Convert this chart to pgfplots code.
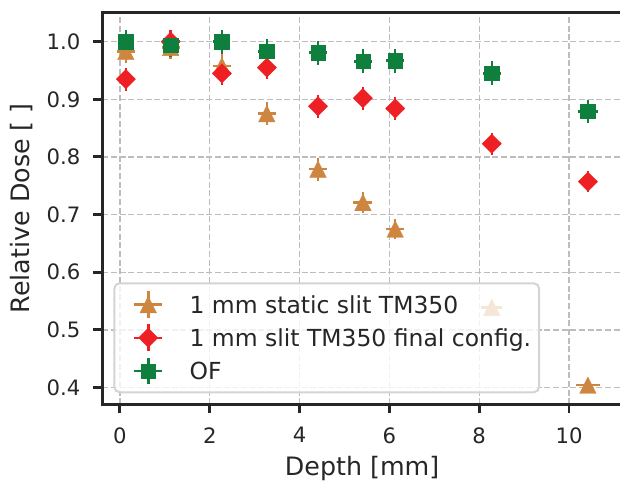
\documentclass[border=0pt]{standalone}
\usepackage{fontspec}
\setmainfont{DejaVu Sans}
\usepackage{pgfplots}
\pgfplotsset{compat=1.18}
\usetikzlibrary{calc}

\definecolor{oorange}{HTML}{CD853F}
\definecolor{rred}{HTML}{EE2024}
\definecolor{ggreen}{HTML}{0E7F3D}
\definecolor{txt}{HTML}{262626}
\definecolor{lgrid}{HTML}{BDBDBD}
\definecolor{lframe}{HTML}{D4D4D4}

% matplotlib-like markers
\pgfdeclareplotmark{mtri}{%
  \pgfpathmoveto{\pgfqpoint{0pt}{\pgfplotmarksize}}%
  \pgfpathlineto{\pgfqpoint{-\pgfplotmarksize}{-\pgfplotmarksize}}%
  \pgfpathlineto{\pgfqpoint{\pgfplotmarksize}{-\pgfplotmarksize}}%
  \pgfpathclose\pgfusepathqfillstroke}
\pgfdeclareplotmark{mdia}{%
  \pgfpathmoveto{\pgfqpoint{0pt}{\pgfplotmarksize}}%
  \pgfpathlineto{\pgfqpoint{-\pgfplotmarksize}{0pt}}%
  \pgfpathlineto{\pgfqpoint{0pt}{-\pgfplotmarksize}}%
  \pgfpathlineto{\pgfqpoint{\pgfplotmarksize}{0pt}}%
  \pgfpathclose\pgfusepathqfillstroke}
\pgfdeclareplotmark{msq}{%
  \pgfpathrectangle{\pgfqpoint{-\pgfplotmarksize}{-\pgfplotmarksize}}{\pgfqpoint{2\pgfplotmarksize}{2\pgfplotmarksize}}%
  \pgfusepathqfillstroke}

% legend handle: marker with x and y error bar
\pgfplotsset{ebimg/.style={legend image code/.code={
  \begin{scope}[sharp corners, fill opacity=1, draw opacity=1]
    \path[draw=none] (0pt,-10pt) rectangle (30pt,10pt);
    \draw[line width=1.9pt] (9pt,0pt) -- (30pt,0pt);
    \draw[line width=1.9pt] (19.5pt,-10pt) -- (19.5pt,10pt);
    \draw[mark repeat=2,mark phase=2] plot coordinates {(9pt,0pt) (19.5pt,0pt) (30pt,0pt)};
  \end{scope}}}}

\pgfplotstableread{
x     y      ex    ey
0.13  0.983  0.20  0.020
1.13  0.990  0.20  0.020
2.27  0.958  0.20  0.020
3.27  0.875  0.20  0.020
4.41  0.779  0.20  0.020
5.41  0.721  0.21  0.018
6.13  0.675  0.20  0.017
8.28  0.539  0.23  0.013
10.42 0.404  0.26  0.010
}\staticslit

\pgfplotstableread{
x     y      ex    ey
0.13  0.935  0.20  0.020
1.13  1.000  0.20  0.020
2.27  0.945  0.20  0.020
3.27  0.955  0.20  0.020
4.41  0.888  0.20  0.020
5.41  0.902  0.20  0.020
6.13  0.884  0.20  0.020
8.28  0.823  0.20  0.019
10.42 0.757  0.20  0.018
}\finalconfig

\pgfplotstableread{
x     y      ex    ey
0.13  1.000  0.17  0.021
1.13  0.994  0.18  0.021
2.27  1.000  0.19  0.021
3.27  0.983  0.19  0.021
4.41  0.981  0.20  0.021
5.41  0.966  0.20  0.021
6.13  0.967  0.20  0.021
8.28  0.945  0.20  0.021
10.42 0.879  0.22  0.020
}\ofdata

\begin{document}
\begin{tikzpicture}
\begin{axis}[
    scale only axis,
    width=389.8pt, height=294pt,
    xmin=-0.394, xmax=11.18,
    ymin=0.371, ymax=1.051,
    xtick={0,2,4,6,8,10},
    ytick={0.4,0.5,0.6,0.7,0.8,0.9,1.0},
    yticklabel style={/pgf/number format/.cd, fixed, fixed zerofill, precision=1},
    /pgf/number format/assume math mode=true,
    ticklabel style={font=\fontsize{15.9}{18}\selectfont, text=txt, inner sep=0pt},
    xticklabel shift=10.5pt,
    yticklabel shift=9.4pt,
    tick align=outside,
    tick pos=left,
    major tick length=6.75pt,
    every tick/.style={line width=2.2pt, txt},
    axis line style={line width=2.5pt, txt},
    grid=major,
    major grid style={line width=1pt, lgrid, dash pattern=on 4.5pt off 2pt},
    every axis x label/.style={at={(axis description cs:0.5,0)}, yshift=-48.5pt, anchor=center},
    every axis y label/.style={at={(axis description cs:0,0.5)}, xshift=-60.2pt, rotate=90, anchor=center},
    label style={font=\fontsize{19}{22}\selectfont, text=txt},
    xlabel={Depth [mm]},
    ylabel={Relative Dose [ ]},
    legend style={
        at={(axis description cs:0.0212,0.028)}, anchor=south west,
        draw=lframe, line width=1.5pt, rounded corners=4pt,
        fill=white, fill opacity=0.8, text opacity=1,
        font=\fontsize{17.6}{21}\selectfont, text=txt,
        inner xsep=6pt, inner ysep=5pt,
        row sep=3pt, column sep=19.5pt,
        nodes={inner sep=0pt, text height=16.4pt, text depth=3.6pt},
    },
    legend cell align=left,
]
\addplot[only marks, color=oorange, ebimg, mark=mtri, mark size=6.2pt,
    mark options={fill=oorange, draw=oorange, line width=0.3pt},
    error bars/.cd, x dir=both, x explicit, y dir=both, y explicit,
    error mark=none, error bar style={line width=1.9pt, color=oorange}]
    table[x=x, y=y, x error=ex, y error=ey] {\staticslit};
\addplot[only marks, color=rred, ebimg, mark=mdia, mark size=7.2pt,
    mark options={fill=rred, draw=rred, line width=0.3pt},
    error bars/.cd, x dir=both, x explicit, y dir=both, y explicit,
    error mark=none, error bar style={line width=1.9pt, color=rred}]
    table[x=x, y=y, x error=ex, y error=ey] {\finalconfig};
\addplot[only marks, color=ggreen, ebimg, mark=msq, mark size=5.4pt,
    mark options={fill=ggreen, draw=ggreen, line width=0.3pt},
    error bars/.cd, x dir=both, x explicit, y dir=both, y explicit,
    error mark=none, error bar style={line width=1.9pt, color=ggreen}]
    table[x=x, y=y, x error=ex, y error=ey] {\ofdata};
\legend{1 mm static slit TM350, 1 mm slit TM350 final config., OF}
\end{axis}
\pgfresetboundingbox
\path[use as bounding box] ($(current axis.south west)+(-76.7pt,-57.75pt)$) rectangle ($(current axis.north east)+(-1.5pt,9.2pt)$);
\end{tikzpicture}
\end{document}
